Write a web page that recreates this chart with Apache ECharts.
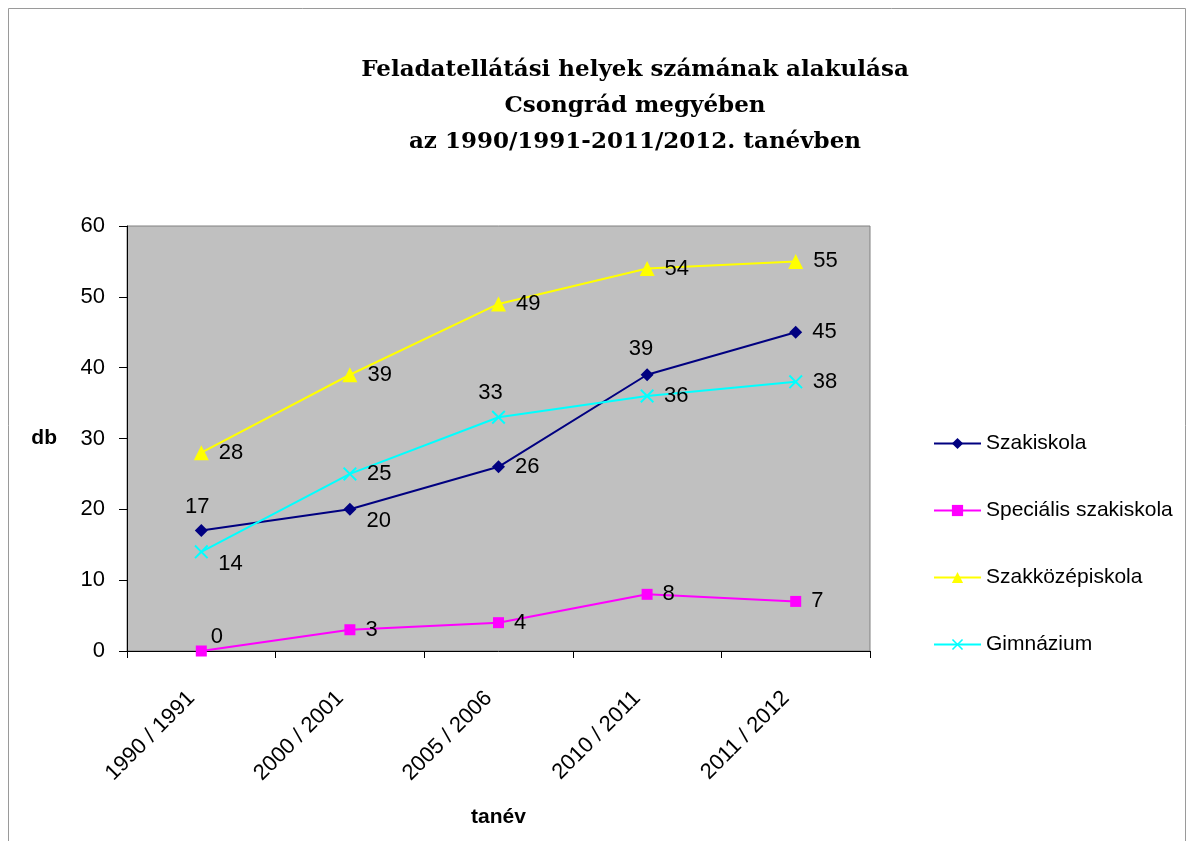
<!DOCTYPE html>
<html>
<head>
<meta charset="utf-8">
<script src="https://cdn.jsdelivr.net/npm/echarts@6/dist/echarts.min.js"></script>
<style>
  html, body { margin: 0; padding: 0; background: #fff; }
  #chart { width: 1192px; height: 841px; }
</style>
</head>
<body>
<div id="chart"></div>
<script>
// tanévek
const categories = ['1990 / 1991', '2000 / 2001', '2005 / 2006', '2010 / 2011', '2011 / 2012']
const szakiskola = [17, 20, 26, 39, 45]
const specialis = [0, 3, 4, 8, 7]
const szakkozep = [28, 39, 49, 54, 55]
const gimnazium = [14, 25, 33, 36, 38]
const yTicks = { min: 0, max: 60, interval: 10 }

const labelFont = '"Liberation Sans", Arial, sans-serif'
const xMark = 'path://M0,1 L1,0 L5,4 L9,0 L10,1 L6,5 L10,9 L9,10 L5,6 L1,10 L0,9 L4,5 Z'

// a few labels sit above / below the point instead of to the right
function withLabels(values, special) {
  return values.map(function(v, i) {
    const item = { value: v }
    if (special[i]) item.label = special[i]
    return item
  })
}

function makeSeries(name, values, color, symbol, size, special) {
  return {
    name: name,
    type: 'line',
    data: withLabels(values, special || {}),
    symbol: symbol,
    symbolSize: size,
    lineStyle: { color: color, width: 2 },
    itemStyle: { color: color },
    label: {
      show: true,
      position: 'right',
      distance: 10,
      color: '#000',
      fontSize: 22,
      fontFamily: labelFont
    },
    emphasis: { disabled: true },
    z: 3
  }
}

const chart = echarts.init(document.getElementById('chart'))
chart.setOption({
  animation: false,
  backgroundColor: '#fff',
  graphic: [{
    type: 'rect',
    shape: { x: 8.5, y: 8.5, width: 1177, height: 860 },
    style: { fill: 'none', stroke: '#9a9a9a', lineWidth: 1 },
    silent: true
  }],
  title: {
    text: 'Feladatellátási helyek számának alakulása\nCsongrád megyében\naz 1990/1991-2011/2012. tanévben',
    left: 630,
    top: 47,
    textAlign: 'center',
    textStyle: {
      fontFamily: 'DejaVu Serif, serif',
      fontWeight: 'bold',
      fontSize: 23,
      lineHeight: 36,
      color: '#000'
    }
  },
  legend: {
    orient: 'vertical',
    left: 928,
    top: 428,
    itemWidth: 47,
    itemHeight: 14,
    itemGap: 46,
    textStyle: { fontSize: 21, fontFamily: labelFont, color: '#000' },
    data: ['Szakiskola', 'Speciális szakiskola', 'Szakközépiskola', 'Gimnázium']
  },
  grid: {
    left: 127,
    top: 226,
    right: 322,
    bottom: 190,
    show: true,
    backgroundColor: '#c0c0c0',
    borderColor: '#808080',
    borderWidth: 1
  },
  xAxis: {
    type: 'category',
    data: categories,
    name: 'tanév',
    nameLocation: 'middle',
    nameGap: 156,
    nameTextStyle: { fontSize: 21, fontWeight: 'bold', fontFamily: labelFont, color: '#000' },
    axisLine: { lineStyle: { color: '#000', width: 1 } },
    axisTick: { show: true, length: 7, lineStyle: { color: '#000' } },
    axisLabel: { rotate: 45, margin: 34, padding: [0, 14, 0, 0], fontSize: 22, fontFamily: labelFont, color: '#000' },
    splitLine: { show: false }
  },
  yAxis: {
    type: 'value',
    min: yTicks.min,
    max: yTicks.max,
    interval: yTicks.interval,
    name: 'db',
    nameLocation: 'middle',
    nameRotate: 0,
    nameGap: 70,
    nameTextStyle: { fontSize: 21, fontWeight: 'bold', fontFamily: labelFont, color: '#000' },
    axisLine: { show: true, lineStyle: { color: '#000', width: 1 } },
    axisTick: { show: true, length: 8, lineStyle: { color: '#000' } },
    axisLabel: { margin: 22, fontSize: 22, fontFamily: labelFont, color: '#000' },
    splitLine: { show: false }
  },
  series: [
    makeSeries('Szakiskola', szakiskola, '#000080', 'diamond', 13, {
      0: { position: 'top', distance: 6, offset: [-4, 0] },
      1: { offset: [0, 12] },
      3: { position: 'top', distance: 8, offset: [-6, 0] }
    }),
    makeSeries('Speciális szakiskola', specialis, '#ff00ff', 'rect', 11, {
      0: { offset: [-6, -14] }
    }),
    makeSeries('Szakközépiskola', szakkozep, '#ffff00', 'triangle', 15),
    makeSeries('Gimnázium', gimnazium, '#00ffff', xMark, 14, {
      0: { offset: [0, 12] },
      2: { position: 'top', distance: 6, offset: [-8, 0] }
    })
  ]
})
</script>
</body>
</html>
